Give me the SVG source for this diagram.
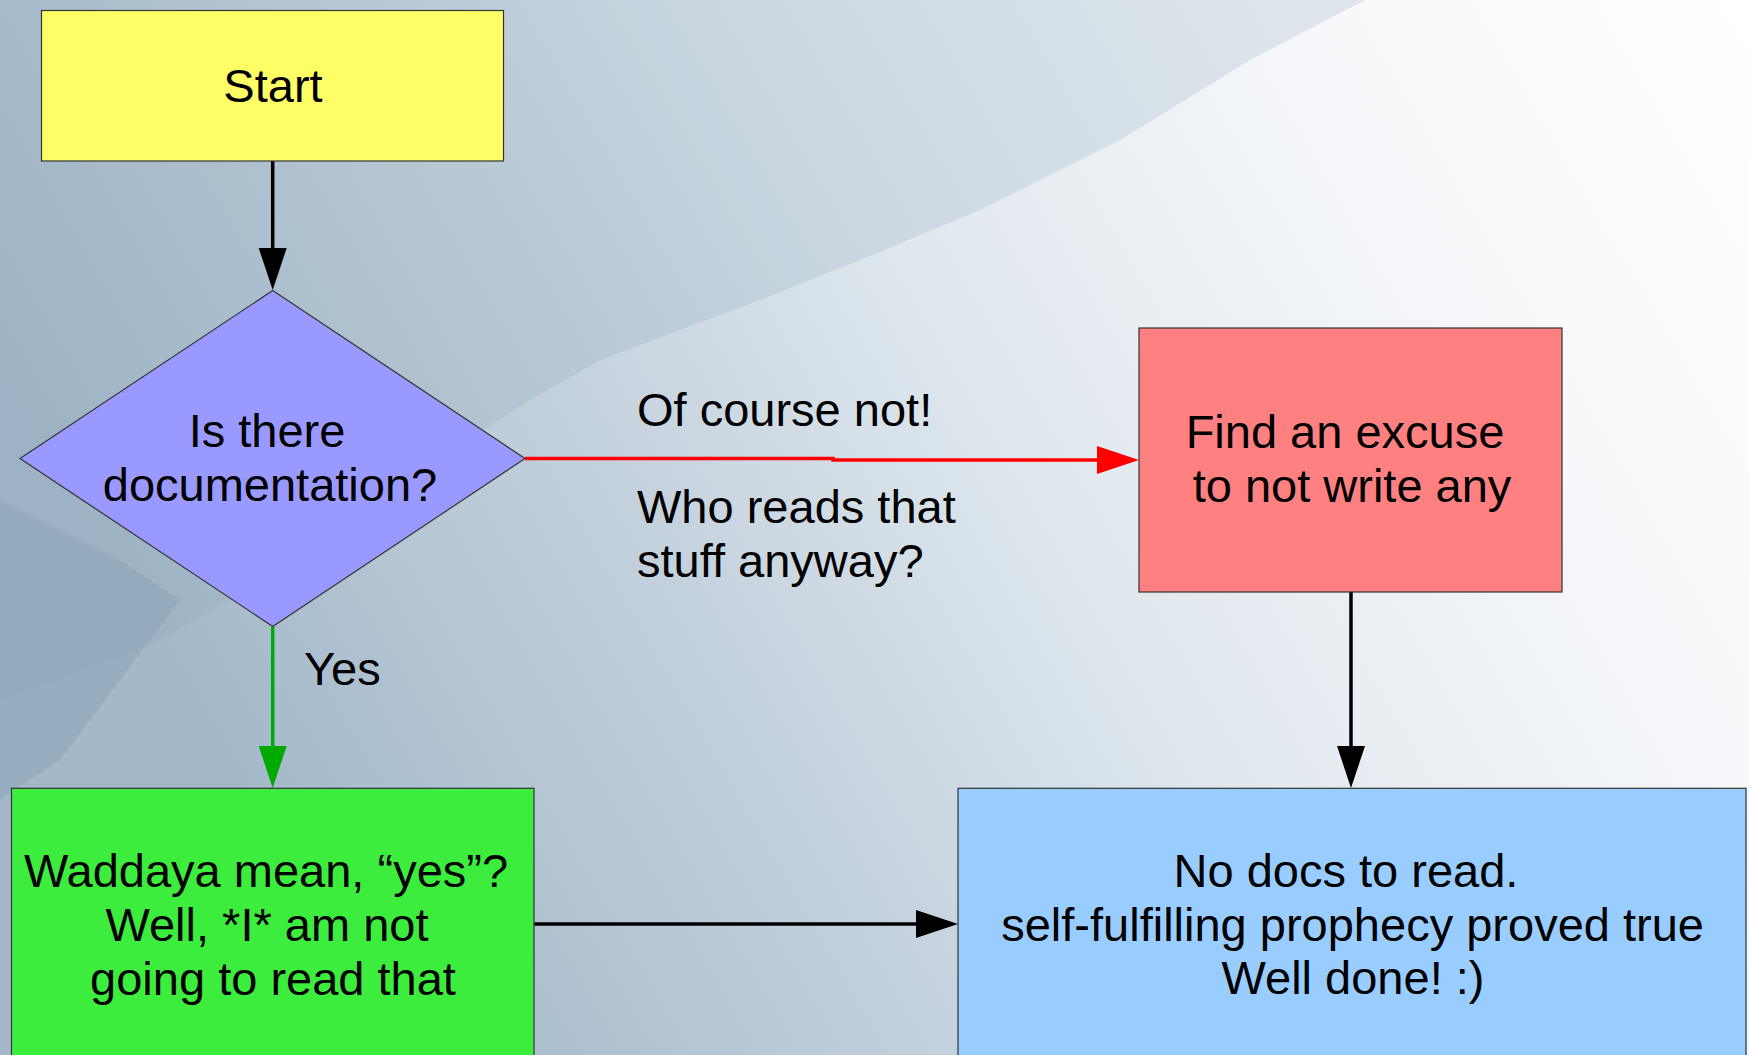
<svg xmlns="http://www.w3.org/2000/svg" width="1749" height="1055" viewBox="0 0 1749 1055">
<defs>
<linearGradient id="bg" x1="0" y1="0.35" x2="1" y2="0">
<stop offset="0" stop-color="#a3b8c9"/>
<stop offset="0.3" stop-color="#c6d3de"/>
<stop offset="0.5" stop-color="#e0e8ee"/>
<stop offset="0.75" stop-color="#f5f7fa"/>
<stop offset="1" stop-color="#ffffff"/>
</linearGradient>
<marker id="hk" viewBox="0 0 42 28" refX="0" refY="14" markerWidth="42" markerHeight="28" markerUnits="userSpaceOnUse" orient="auto"><path d="M0,0 L42,14 L0,28 Z" fill="#000"/></marker>
<marker id="hr" viewBox="0 0 42 28" refX="0" refY="14" markerWidth="42" markerHeight="28" markerUnits="userSpaceOnUse" orient="auto"><path d="M0,0 L42,14 L0,28 Z" fill="#ff0000"/></marker>
<marker id="hg" viewBox="0 0 42 28" refX="0" refY="14" markerWidth="42" markerHeight="28" markerUnits="userSpaceOnUse" orient="auto"><path d="M0,0 L42,14 L0,28 Z" fill="#00aa00"/></marker>
</defs>
<style>
.t{font-family:"Liberation Sans",Arial,sans-serif;font-size:47px;fill:#000}
.c{text-anchor:middle}
.n{stroke:#333;stroke-width:1.2}
.e{fill:none;stroke-width:3.5}
</style>
<g id="background">
<rect x="0" y="0" width="1749" height="1055" fill="url(#bg)"/>
<polygon points="0,0 1365,0 1250,60 1120,140 980,210 860,260 760,300 680,330 600,360 530,400 420,470 300,560 160,640 0,700" fill="#8aa3b8" opacity="0.22"/>
<polygon points="0,500 120,560 180,600 120,680 60,760 0,800" fill="#7d97ad" opacity="0.3"/>
</g>
<g id="connectors">
<path class="e" d="M272.7,161 V248" stroke="#000"/>
<path class="e" d="M272.7,627 V746" stroke="#00aa00" marker-end="url(#hg)"/>
<path class="e" d="M525,458.5 H833 V460 H1097" stroke="#ff0000" marker-end="url(#hr)"/>
<path class="e" d="M1351,592 V746" stroke="#000" marker-end="url(#hk)"/>
<path class="e" d="M534,924 H916" stroke="#000" marker-end="url(#hk)"/>
<path d="M258.7,248 L272.7,290 L286.7,248 Z" fill="#000"/>
<text class="t" x="637" y="425.7">Of course not!</text>
<text class="t" x="637" y="523.3">Who reads that</text>
<text class="t" x="637" y="577.3">stuff anyway?</text>
<text class="t" x="304" y="685">Yes</text>
</g>
<g id="start">
<rect class="n" x="41.5" y="10.5" width="462" height="150.5" fill="#ffff66"/>
<text class="t c" x="273" y="101.7">Start</text>
</g>
<g id="decision">
<polygon class="n" points="272.7,290.5 525,458.5 272.7,626.5 20,458.5" fill="#9999ff"/>
<text class="t c" x="267" y="447">Is there</text>
<text class="t c" x="270" y="500.7">documentation?</text>
</g>
<g id="excuse">
<rect class="n" x="1139" y="328" width="423" height="264" fill="#ff8080"/>
<text class="t c" x="1345" y="448.3">Find an excuse</text>
<text class="t c" x="1352" y="501.7">to not write any</text>
</g>
<g id="waddaya">
<rect class="n" x="11.5" y="788.3" width="522.5" height="280" fill="#3ded3d"/>
<text class="t c" x="266" y="886.7">Waddaya mean, “yes”?</text>
<text class="t c" x="267" y="941">Well, *I* am not</text>
<text class="t c" x="273" y="995">going to read that</text>
</g>
<g id="nodocs">
<rect class="n" x="958" y="788.3" width="788" height="280" fill="#99ccff"/>
<text class="t c" x="1346" y="886.7">No docs to read.</text>
<text class="t c" x="1352.6" y="940.7">self-fulfilling prophecy proved true</text>
<text class="t c" x="1353" y="994.3">Well done! :)</text>
</g>
</svg>
